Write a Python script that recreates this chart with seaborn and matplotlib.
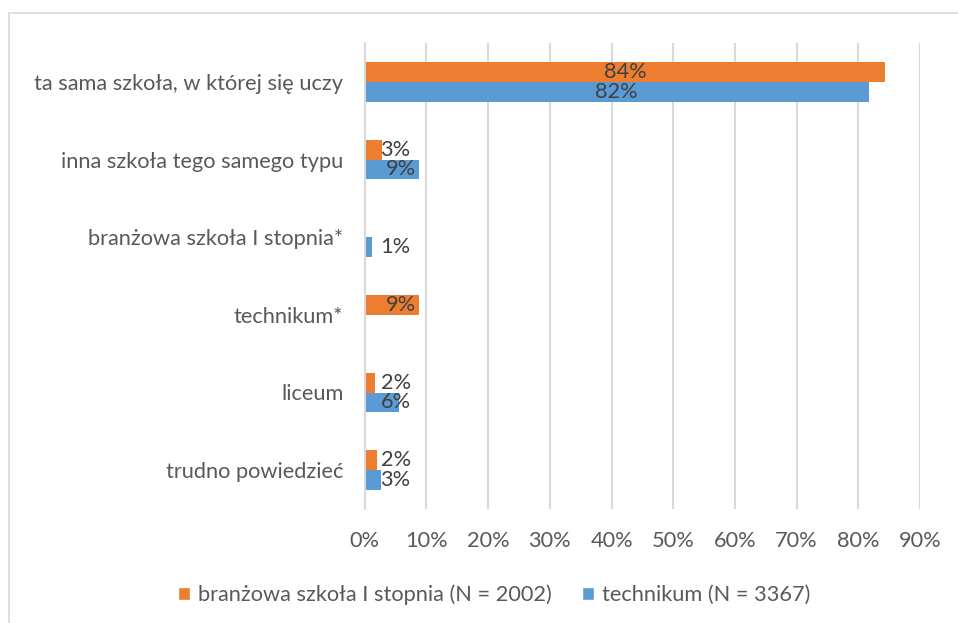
import numpy as np
import pandas as pd
import matplotlib
matplotlib.use("Agg")
import matplotlib.pyplot as plt
from matplotlib.patches import Patch
from matplotlib.lines import Line2D
from matplotlib.ticker import PercentFormatter
import seaborn as sns

# ── data ─────────────────────────────────────────────────────
categories = [
    "ta sama szkoła, w której się uczy",
    "inna szkoła tego samego typu",
    "branżowa szkoła I stopnia*",
    "technikum*",
    "liceum",
    "trudno powiedzieć",
]
series = ["branżowa szkoła I stopnia (N = 2002)", "technikum (N = 3367)"]
branzowa = [84.4, 2.8, np.nan, 8.8, 1.7, 1.9]
technikum = [81.7, 8.8, 1.1, np.nan, 5.6, 2.6]
x_ticks = list(range(0, 100, 10))

ORANGE = "#ED7D31"
BLUE = "#5B9BD5"
GRID = "#D9D9D9"
TEXT = "#595959"
LABEL = "#404040"
FS = 15.7

df = pd.DataFrame({
    "kategoria": categories * 2,
    "seria": [series[0]] * len(categories) + [series[1]] * len(categories),
    "wartosc": branzowa + technikum,
}).dropna()

sns.set_theme(style="white")
plt.rcParams["font.family"] = ["Lato", "DejaVu Sans"]

fig = plt.figure(figsize=(9.58, 6.23), dpi=100)
W, H = 958, 623
ax = fig.add_axes([364.8 / W, 1 - 509 / H, (920 - 364.8) / W, (509 - 43) / H])

sns.barplot(
    data=df, y="kategoria", x="wartosc", hue="seria",
    order=categories, hue_order=series,
    palette=[ORANGE, BLUE], saturation=1, orient="h", width=0.515,
    dodge=True, legend=False, ax=ax, edgecolor="none",
)

ax.set_xlim(0, 90)
ax.set_xticks(x_ticks)
ax.xaxis.set_major_formatter(PercentFormatter(decimals=0))
ax.set_xlabel("")
ax.set_ylabel("")
ax.grid(axis="x", color=GRID, linewidth=1.5)
ax.set_axisbelow(True)
for side in ["top", "right", "bottom"]:
    ax.spines[side].set_visible(False)
ax.spines["left"].set_color(GRID)
ax.spines["left"].set_linewidth(1.5)
ax.tick_params(axis="x", length=0, pad=16, labelsize=FS, labelcolor=TEXT)
ax.tick_params(axis="y", length=0, pad=15.5, labelsize=FS, labelcolor=TEXT)

# data labels
for cont in ax.containers:
    for bar in cont:
        v = bar.get_width()
        if not np.isfinite(v) or v <= 0:
            continue
        yc = bar.get_y() + bar.get_height() / 2
        xc = v / 2 if v > 20 else max(v / 2 + 1.5, 5.0)
        ax.text(xc, yc, f"{v:.0f}%", ha="center", va="center",
                fontsize=FS, color=LABEL)

# chart frame (top and left edges visible)
fig.add_artist(Line2D([9 / W, 1], [1 - 13 / H, 1 - 13 / H],
                      color=GRID, lw=1.2, transform=fig.transFigure))
fig.add_artist(Line2D([9 / W, 9 / W], [0, 1 - 13 / H],
                      color=GRID, lw=1.2, transform=fig.transFigure))

handles = [Patch(facecolor=ORANGE), Patch(facecolor=BLUE)]
fig.legend(handles, series, loc="center", bbox_to_anchor=(494 / W, 1 - 595 / H),
           ncol=2, frameon=False, fontsize=FS, labelcolor=TEXT,
           handlelength=0.55, handleheight=0.55, handletextpad=0.37,
           columnspacing=1.4)

fig.savefig("out.png", dpi=100)
